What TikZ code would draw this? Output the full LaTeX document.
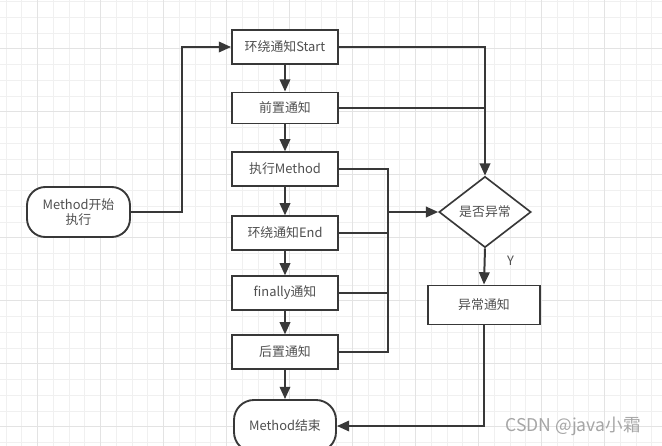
\documentclass[tikz,border=0pt]{standalone}
\usepackage{fontspec}
\setmainfont{Noto Sans CJK SC}
\usetikzlibrary{positioning,shapes.geometric,arrows.meta}
\definecolor{ink}{HTML}{383838}
\definecolor{txt}{HTML}{505050}
\tikzset{
	box/.style={draw=ink, line width=1.6pt, fill=white, text=txt, minimum width=3.18cm, minimum height=1cm, inner sep=2pt, font=\fontsize{11}{13}\selectfont},
	term/.style={box, rounded corners=0.55cm},
	decide/.style={draw=ink, line width=1.4pt, fill=white, text=txt, diamond, minimum width=2.76cm, minimum height=2.13cm, inner sep=0pt, font=\fontsize{11}{13}\selectfont},
	link/.style={draw=ink, line width=1.7pt},
	arr/.style={link, -{Triangle[length=10.5pt, width=9pt]}}
}
\begin{document}
\begin{tikzpicture}[x=0.03cm, y=-0.03cm]
	\useasboundingbox (0,0) rectangle (662,446);
	\fill[white] (0,0) rectangle (662,446);
	% grid
	\foreach \gx in {6,21.75,...,662} \draw[gray!12, line width=0.5pt] (\gx,0) -- (\gx,446);
	\foreach \gy in {1.5,17.25,...,446} \draw[gray!12, line width=0.5pt] (0,\gy) -- (662,\gy);
	\foreach \gx in {37.5,100.5,...,662} \draw[gray!22, line width=0.6pt] (\gx,0) -- (\gx,446);
	\foreach \gy in {48.75,111.75,...,446} \draw[gray!22, line width=0.6pt] (0,\gy) -- (662,\gy);

	\node[term, minimum width=3.09cm, minimum height=1.5cm, align=center] (begin) at (78.5,212) {Method开始\\执行};
	\node[box] (start) at (285,47) {环绕通知Start};
	\node[box, minimum height=0.93cm] (pre) at (285,108) {前置通知};
	\node[box] (exec) at (285,169) {执行Method};
	\node[box] (aend) at (285,233) {环绕通知End};
	\node[box] (fin) at (285,293) {finally通知};
	\node[box] (post) at (285,352) {后置通知};
	\node[term, minimum width=3.06cm, minimum height=1.56cm, rounded corners=0.6cm] (finish) at (285,426) {Method结束};
	\node[decide] (dec) at (485,212) {是否异常};
	\node[box, minimum width=3.35cm, minimum height=1.17cm] (exc) at (484,305) {异常通知};
	\coordinate (bus) at (388,212); % collecting line

	\draw[arr] (begin.east) -- ++(51,0) |- (start.west);
	\foreach \a/\b in {start/pre, pre/exec, exec/aend, aend/fin, fin/post, post/finish}
		\draw[arr] (\a) -- (\b);
	\draw[arr] (start.east) -| (dec.north);
	\draw[link] (pre.east) -- (pre.east -| dec.north);
	\draw[link] (exec.east) -| (bus) |- (post.east);
	\draw[link] (aend.east) -- (aend.east -| bus);
	\draw[link] (fin.east) -- (fin.east -| bus);
	\draw[arr] (bus) -- (dec.west);
	\draw[arr] (dec.south) -- node[pos=0.35, right=15pt, text=txt, font=\fontsize{11}{13}\selectfont] {Y} (exc.north);
	\draw[arr] (exc.south) |- (finish.east);

	\node[text=gray!70, font=\fontsize{15}{17}\selectfont] (mark) at (573,426) {CSDN @java小霜};
\end{tikzpicture}
\end{document}
